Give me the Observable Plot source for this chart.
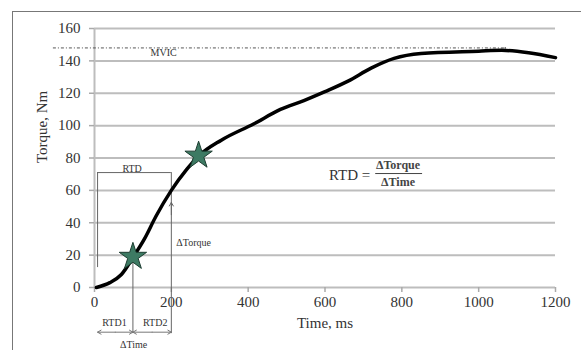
<!DOCTYPE html>
<html>
<head>
<meta charset="utf-8">
<script src="https://cdn.jsdelivr.net/npm/d3@7"></script>
<script src="https://cdn.jsdelivr.net/npm/@observablehq/plot@0.6"></script>
<style>
  html, body { margin: 0; padding: 0; background: #fff; }
  #wrap { position: relative; width: 581px; height: 350px; overflow: hidden; }
  #border { position: absolute; left: 12px; top: 11px; width: 600px; height: 400px; border: 1.5px solid #777; pointer-events: none; }
  svg { display: block; }
</style>
</head>
<body>
<div id="wrap"><div id="border"></div></div>
<script>
// Torque-time curve (ms, Nm)
const timeMs = [5, 40, 70, 100, 130, 160, 200, 240, 270, 330, 414, 484, 545, 600, 660, 720, 780, 850, 1000, 1060, 1130, 1200];
const torqueNm = [0, 3, 8, 18.5, 30, 44, 60, 73, 81, 91, 101, 110, 115.5, 121, 127.5, 135.5, 141.5, 144.5, 146, 146.5, 145, 142];
// Marked points (stars)
const starTime = [100, 271];
const starTorque = [19, 81.5];
// Tick values
const yTicks = [0, 20, 40, 60, 80, 100, 120, 140, 160];
const xTicks = [0, 200, 400, 600, 800, 1000, 1200];
// MVIC level
const mvic = 148;
const mvicStart = -107, mvicEnd = 1070;
// RTD annotation values
const rtdStart = 8, rtdMid = 100, rtdEnd = 200;
const rtdBoxTop = 71, rtdBoxLeftBottom = 12.3;
const belowAxis = -28.5, arrowLevel = -27.6;

const curve = timeMs.map((t, i) => ({t, v: torqueNm[i]}));
const stars = starTime.map((t, i) => ({t, v: starTorque[i]}));
const serif = "'Liberation Serif', 'DejaVu Serif', serif";
const ink = "#333";

const chart = Plot.plot({
  width: 581,
  height: 350,
  marginLeft: 94,
  marginRight: 26,
  marginTop: 28,
  marginBottom: 63,
  style: {fontFamily: serif, fontSize: "15px", color: ink, background: "transparent", overflow: "visible"},
  x: {domain: [0, 1200], ticks: xTicks},
  y: {domain: [0, 160], ticks: yTicks},
  marks: [
    Plot.ruleY(yTicks.filter(d => d > 0), {stroke: "#bdbdbd", strokeWidth: 2}),
    Plot.ruleX([0], {stroke: "#bdbdbd", strokeWidth: 2}),
    Plot.ruleY([0], {stroke: "#bdbdbd", strokeWidth: 2}),
    Plot.axisY({ticks: yTicks, tickFormat: d => String(d), tickSize: 5, tickPadding: 9, stroke: "#aaa", strokeWidth: 1.5, label: null, fontSize: 15, fill: ink}),
    Plot.axisX({ticks: xTicks, tickFormat: d => String(d), tickSize: 5, tickPadding: 4, stroke: "#aaa", strokeWidth: 1.5, label: null, fontSize: 15, fill: ink}),
    Plot.text(["Torque, Nm"], {frameAnchor: "left", dx: -52, dy: 5, rotate: -90, fontSize: 15, fill: ink}),
    Plot.text(["Time, ms"], {frameAnchor: "bottom", dy: 40, fontSize: 15, fill: ink}),
    // MVIC line
    Plot.ruleY([mvic], {x1: mvicStart, x2: mvicEnd, stroke: "#555", strokeWidth: 1, strokeDasharray: "3,2,1,2"}),
    Plot.arrow([{x1: mvicEnd - 2, x2: mvicEnd}], {x1: "x1", x2: "x2", y1: mvic, y2: mvic, stroke: "#555", strokeWidth: 1, headLength: 7}),
    Plot.text(["MVIC"], {x: 180, y: 145, fontSize: 10, fill: ink}),
    // RTD box and guides
    Plot.ruleX([rtdStart], {y1: rtdBoxLeftBottom, y2: rtdBoxTop, stroke: "#666", strokeWidth: 1}),
    Plot.ruleY([rtdBoxTop], {x1: rtdStart, x2: rtdEnd, stroke: "#666", strokeWidth: 1}),
    Plot.ruleX([rtdEnd], {y1: belowAxis, y2: rtdBoxTop, stroke: "#666", strokeWidth: 1}),
    Plot.ruleX([rtdMid], {y1: belowAxis, y2: starTorque[0], stroke: "#666", strokeWidth: 1}),
    Plot.arrow([{y1: 45, y2: 52.5}], {x1: rtdEnd, x2: rtdEnd, y1: "y1", y2: "y2", stroke: "#666", strokeWidth: 1, headLength: 6}),
    Plot.text(["RTD"], {x: 98, y: 73.5, fontSize: 10, fill: ink}),
    Plot.text(["\u0394Torque"], {x: 258, y: 27.5, fontSize: 10, fill: ink}),
    // double arrows below axis
    Plot.arrow([
      {x1: 54, x2: rtdStart}, {x1: 54, x2: rtdMid},
      {x1: 150, x2: rtdMid}, {x1: 150, x2: rtdEnd}
    ], {x1: "x1", x2: "x2", y1: arrowLevel, y2: arrowLevel, stroke: "#777", strokeWidth: 1, headLength: 6}),
    Plot.text(["RTD1"], {x: 52, y: -21.6, fontSize: 10, fill: ink}),
    Plot.text(["RTD2"], {x: 158, y: -21.6, fontSize: 10, fill: ink}),
    Plot.text(["\u0394Time"], {x: 102, y: -35.3, fontSize: 10, fill: ink}),
    // curve
    Plot.line(curve, {x: "t", y: "v", curve: "monotone-x", stroke: "#000", strokeWidth: 3.5}),
    Plot.dot(stars, {x: "t", y: "v", symbol: "star", r: 8.6, fill: "#3d7a63", stroke: "#1d3d31", strokeWidth: 1}),
    // formula
    Plot.text(["RTD ="], {x: 664, y: 69.5, fontSize: 15, fill: ink}),
    Plot.text(["\u0394Torque"], {x: 790, y: 75.5, fontSize: 12, fontWeight: "bold", fill: "#444"}),
    Plot.text(["\u0394Time"], {x: 790, y: 64.8, fontSize: 12, fontWeight: "bold", fill: "#444"}),
    Plot.ruleY([70.4], {x1: 732, x2: 854, stroke: "#444", strokeWidth: 1})
  ]
});
document.getElementById("wrap").insertBefore(chart, document.getElementById("border"));
</script>
</body>
</html>
